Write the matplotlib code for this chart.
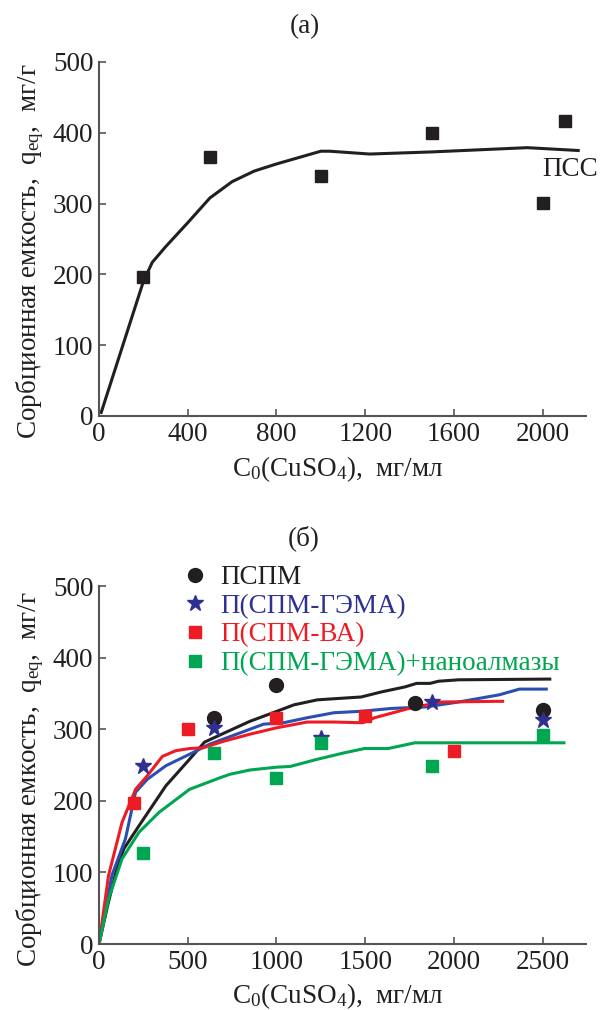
import matplotlib
matplotlib.use("Agg")
import matplotlib.pyplot as plt

plt.rcParams['font.family'] = ['Liberation Serif', 'DejaVu Serif']
plt.rcParams['mathtext.fontset'] = 'custom'
plt.rcParams['mathtext.rm'] = 'Liberation Serif'
plt.rcParams['mathtext.it'] = 'Liberation Serif:italic'

# ---------------- data: panel (a) ----------------
a_pts_x = [200, 500, 1000, 1500, 2000, 2100]
a_pts_y = [197, 366, 339, 400, 301, 417]
a_line_x = [10, 200, 240, 300, 400, 500, 600, 700, 800, 900, 1000, 1040, 1220, 1500, 1930, 2160]
a_line_y = [5, 190, 217, 239, 273, 308, 331, 346, 356, 365, 374, 374, 370, 373, 379, 375]
a_xticks = [0, 400, 800, 1200, 1600, 2000]
a_yticks = [0, 100, 200, 300, 400, 500]

# ---------------- data: panel (б) ----------------
labels_b = ['ПСПМ', 'П(СПМ-ГЭМА)', 'П(СПМ-ВА)', 'П(СПМ-ГЭМА)+наноалмазы']

pspm_x = [650, 1000, 1780, 2500]
pspm_y = [316, 362, 337, 327]
gema_x = [250, 650, 1250, 1875, 2500]
gema_y = [248, 302, 288, 338, 313]
va_x = [200, 500, 1000, 1500, 2000]
va_y = [197, 300, 315, 318, 269]
nano_x = [250, 650, 1000, 1250, 1875, 2500]
nano_y = [127, 267, 232, 281, 249, 292]

pspm_lx = [0, 50, 100, 140, 225, 377, 510, 595, 700, 850, 1002, 1098, 1230, 1477, 1590, 1723, 1790, 1866, 1913, 2027, 2540]
pspm_ly = [0, 55, 105, 133, 165, 221, 258, 282, 294, 311, 325, 334, 341, 345, 352, 359, 364, 364, 367, 369, 370]
va_lx = [0, 54, 130, 206, 272, 357, 433, 510, 586, 700, 850, 1002, 1173, 1324, 1486, 1553, 1761, 1932, 2274]
va_ly = [0, 96, 170, 216, 235, 262, 270, 273, 274, 283, 293, 302, 310, 310, 309, 316, 330, 338, 339]
gema_lx = [0, 73, 149, 206, 272, 377, 510, 623, 775, 927, 1040, 1173, 1324, 1477, 1648, 1837, 2027, 2255, 2369, 2520]
gema_ly = [0, 96, 147, 212, 230, 249, 265, 279, 293, 307, 309, 316, 323, 325, 329, 331, 338, 348, 356, 356]
nano_lx = [0, 54, 130, 225, 339, 510, 680, 737, 850, 1002, 1078, 1230, 1382, 1496, 1629, 1780, 2620]
nano_ly = [0, 63, 119, 156, 184, 216, 232, 237, 243, 247, 248, 258, 267, 273, 273, 281, 281]
b_xticks = [0, 500, 1000, 1500, 2000, 2500]
b_yticks = [0, 100, 200, 300, 400, 500]

c_black = '#231f20'
c_blue_m = '#2e3192'
c_blue_l = '#2a4fb0'
c_red = '#ed1c24'
c_green = '#00a651'

W, H = 608, 1010
fig = plt.figure(figsize=(W / 100, H / 100), dpi=100)

def px_ax(l, r, t, b):
    return [l / W, 1 - b / H, (r - l) / W, (b - t) / H]

FS = 19.5
axa = fig.add_axes(px_ax(99, 586, 62, 416))
axb = fig.add_axes(px_ax(99, 586, 586, 944))

def style(ax):
    for s in ['top', 'right']:
        ax.spines[s].set_visible(False)
    for s in ['left', 'bottom']:
        ax.spines[s].set_linewidth(1.5)
        ax.spines[s].set_color('#555555')
    ax.tick_params(direction='in', length=5, width=1.2, color='#555555',
                   labelsize=FS, labelcolor='#231f20', pad=4)

# panel (a)
style(axa)
axa.plot(a_line_x, a_line_y, color=c_black, lw=2.2, zorder=2)
axa.plot(a_pts_x, a_pts_y, 's', color=c_black, ms=8.5, zorder=3, ls='none')
axa.set_xlim(0, 2195)
axa.set_ylim(0, 500)
axa.set_xticks(a_xticks)
axa.set_yticks(a_yticks)
axa.text(2000, 348, 'ПСС', fontsize=FS, color=c_black, ha='left', va='center')

# panel (б)
style(axb)
axb.plot(pspm_lx, pspm_ly, color=c_black, lw=2.2, zorder=2)
axb.plot(gema_lx, gema_ly, color=c_blue_l, lw=2.2, zorder=2)
axb.plot(va_lx, va_ly, color=c_red, lw=2.2, zorder=2)
axb.plot(nano_lx, nano_ly, color=c_green, lw=2.2, zorder=2)
h1, = axb.plot(pspm_x, pspm_y, 'o', color=c_black, ms=10, ls='none', zorder=3)
h2, = axb.plot(gema_x, gema_y, '*', color=c_blue_m, ms=12, ls='none', zorder=3)
h3, = axb.plot(va_x, va_y, 's', color=c_red, ms=8.5, ls='none', zorder=3)
h4, = axb.plot(nano_x, nano_y, 's', color=c_green, ms=8.5, ls='none', zorder=3)
axb.set_xlim(0, 2744)
axb.set_ylim(0, 500)
axb.set_xticks(b_xticks)
axb.set_yticks(b_yticks)

leg = axb.legend([h1, h2, h3, h4], labels_b, loc='upper left',
                 bbox_to_anchor=((181 - 99) / 487, (944 - 565) / 358),
                 frameon=False, fontsize=FS, handlelength=1.0,
                 handletextpad=0.45, labelspacing=0.14, borderpad=0,
                 borderaxespad=0,
                 labelcolor=[c_black, c_blue_m, c_red, c_green])

# labels & titles
ylab = 'Сорбционная емкость,  q$_{\\mathrm{eq}}$,  мг/г'
xlab = 'C$_{0}$(CuSO$_{4}$),  мг/мл'
fig.text(30 / W, 1 - 251 / H, ylab, rotation=90, ha='center', va='center', fontsize=FS, color=c_black)
fig.text(30 / W, 1 - 779 / H, ylab, rotation=90, ha='center', va='center', fontsize=FS, color=c_black)
fig.text(338 / W, 1 - 469 / H, xlab, ha='center', va='center', fontsize=FS, color=c_black)
fig.text(338 / W, 1 - 996 / H, xlab, ha='center', va='center', fontsize=FS, color=c_black)
fig.text(305 / W, 1 - 27 / H, '(a)', ha='center', va='center', fontsize=FS, color=c_black)
fig.text(304 / W, 1 - 538 / H, '(б)', ha='center', va='center', fontsize=FS, color=c_black)

fig.savefig('out.png', dpi=100)
